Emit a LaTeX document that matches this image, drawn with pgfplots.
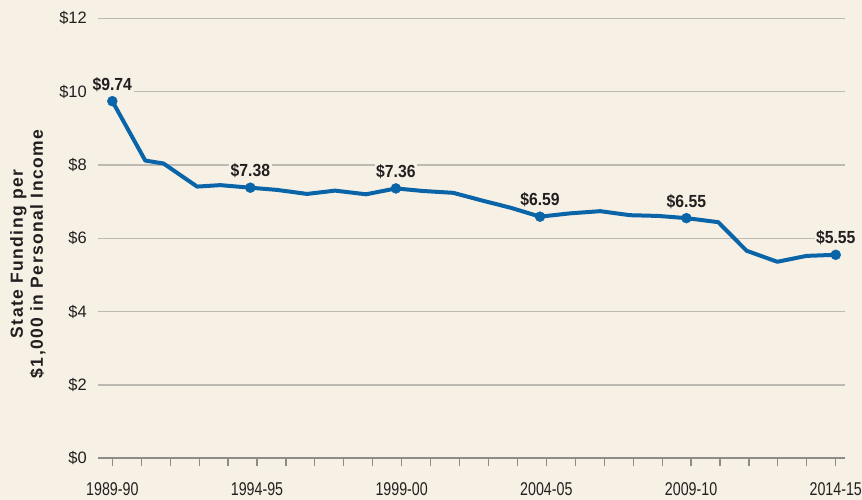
\documentclass[border=0pt]{standalone}
\usepackage{pgfplots}
\pgfplotsset{compat=1.18}
\usepackage{fontspec}
\setmainfont{Liberation Sans}
\newfontfamily\xtfamily{Liberation Sans}[FakeStretch=0.77]
\newfontfamily\annfamily{Liberation Sans}[FakeStretch=0.9]
\newfontfamily\ylabfamily{Liberation Sans}[LetterSpace=8]
\usetikzlibrary{backgrounds}

\definecolor{bgcream}{HTML}{F7F1E5}
\definecolor{lineblue}{HTML}{0A64A8}
\definecolor{gridgray}{HTML}{BDBAB3}
\definecolor{axisgray}{HTML}{8E8C88}
\definecolor{txt}{HTML}{231F20}

\pgfplotsset{/pgf/number format/assume math mode=true}

% state funding per $1,000 of personal income (x = position in years from 1989-90)
\pgfplotstableread{
x      y
0.00   9.74
1.14   8.12
1.77   8.04
2.93   7.41
3.73   7.45
4.77   7.38
5.69   7.32
6.73   7.21
7.70   7.30
8.77   7.20
9.80   7.36
10.74  7.29
11.78  7.24
12.78  7.03
13.78  6.83
14.78  6.59
15.82  6.68
16.86  6.74
17.89  6.63
18.86  6.61
19.84  6.55
20.94  6.44
21.92  5.66
22.98  5.36
23.99  5.52
25.00  5.55
}\funding

\begin{document}
\begin{tikzpicture}
\begin{axis}[
  scale only axis,
  width=746.7bp, height=440bp,
  xmin=-0.484, xmax=25.32,
  ymin=0, ymax=12,
  clip=false,
  axis line style={draw=none},
  ytick={0,2,...,12},
  ymajorgrids,
  grid style={color=gridgray, line width=1.2bp},
  yticklabel={\$\pgfmathprintnumber{\tick}},
  yticklabel style={font=\fontsize{16.5bp}{19bp}\selectfont, text=txt, xshift=0bp},
  ytick style={draw=none},
  xtick={0,5,...,25},
  xticklabels={1989-90,1994-95,1999-00,2004-05,2009-10,2014-15},
  minor xtick={1,...,24},
  xtick pos=left,
  tick align=outside,
  major tick length=8bp, minor tick length=8bp,
  xtick style={draw=axisgray, line width=1.2bp},
  every minor tick/.append style={draw=axisgray, line width=1.2bp},
  xticklabel style={font=\xtfamily\fontsize{18.5bp}{21bp}\selectfont, text=txt, yshift=-13bp},
]
\draw[axisgray, line width=2bp] (rel axis cs:0,0) -- (rel axis cs:1,0);
\coordinate (o) at (rel axis cs:0,0);

\addplot[lineblue, line width=4bp, line join=round] table[x=x, y=y] {\funding};

\addplot[only marks, mark=*, mark size=5bp, lineblue,
  nodes near coords={\$\pgfmathprintnumber[fixed, fixed zerofill, precision=2]{\pgfplotspointmeta}},
  every node near coord/.append style={font=\annfamily\bfseries\fontsize{17.5bp}{20bp}\selectfont,
    text=txt, fill=bgcream, inner sep=1.5bp, anchor=south, yshift=8bp}]
  coordinates {(0,9.74) (4.77,7.38) (9.80,7.36) (14.78,6.59) (19.84,6.55) (25,5.55)};
\end{axis}

\node[rotate=90, align=center, text=txt, font=\ylabfamily\bfseries\fontsize{17.5bp}{20bp}\selectfont]
  at ([shift={(-70.3bp,204.3bp)}]o) {State Funding per\\\$1,000 in Personal Income};

\begin{scope}[on background layer]
\fill[bgcream] ([shift={(-98.3bp,-41.7bp)}]o) rectangle ([shift={(763.7bp,458.3bp)}]o);
\end{scope}
\pgfresetboundingbox
\path[use as bounding box] ([shift={(-98.3bp,-41.7bp)}]o) rectangle ([shift={(763.7bp,458.3bp)}]o);
\end{tikzpicture}
\end{document}
